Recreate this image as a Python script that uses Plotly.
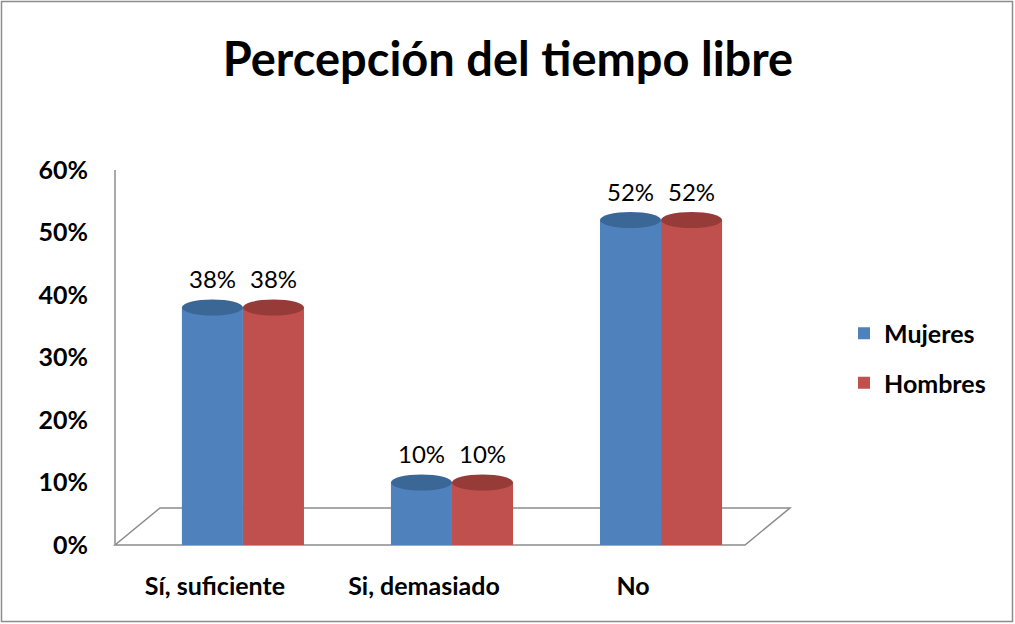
import plotly.graph_objects as go

# ---- data ----
categories = ["Sí, suficiente", "Si, demasiado", "No"]
series_names = ["Mujeres", "Hombres"]
mujeres = [38, 10, 52]
hombres = [38, 10, 52]
y_ticks = [0, 10, 20, 30, 40, 50, 60]
y_tick_labels = [f"{v}%" for v in y_ticks]

# ---- style ----
colors = ["#4F81BD", "#C0504D"]
top_colors = ["#3B6797", "#973B39"]
FONT = "Lato"
W, H = 1015, 624
L, R, T, B = 115, 225, 170, 79
PW, PH = W - L - R, H - T - B

def px(x):
    return (x - L) / PW

def py(y):
    return (H - B - y) / PH

x_pos = list(range(len(categories)))
series = [mujeres, hombres]
bargap = 0.416
bar_w = (1 - bargap) / 2

fig = go.Figure()
for k, (name, vals) in enumerate(zip(series_names, series)):
    fig.add_trace(go.Bar(
        x=x_pos, y=vals, name=name, legendgroup=name,
        marker=dict(color=colors[k], line=dict(width=0)),
        hoverinfo="skip",
    ))

shapes = []
annotations = []
for k, vals in enumerate(series):
    off = (k - 0.5) * bar_w
    for i, v in enumerate(vals):
        cx = x_pos[i] + off
        shapes.append(dict(type="circle", xref="x", yref="y", ysizemode="pixel",
                           yanchor=0, x0=cx - bar_w / 2, x1=cx + bar_w / 2, y0=-8, y1=8,
                           fillcolor=colors[k], line=dict(width=0), layer="below"))
        shapes.append(dict(type="circle", xref="x", yref="y", ysizemode="pixel",
                           yanchor=v, x0=cx - bar_w / 2, x1=cx + bar_w / 2, y0=-8, y1=8,
                           fillcolor=top_colors[k], line=dict(width=0), layer="above"))
        annotations.append(dict(x=cx, y=v, xref="x", yref="y", text=f"{v}%",
                                showarrow=False, yshift=29,
                                font=dict(family=FONT, size=24, color="#000000")))

floor = (f"M {px(115)} {py(545)} L {px(745)} {py(545)} L {px(790)} {py(508)} "
         f"L {px(160)} {py(508)} Z")
shapes.append(dict(type="path", xref="paper", yref="paper", path=floor,
                   line=dict(color="#8C8C8C", width=1.5), layer="below"))
shapes.append(dict(type="line", xref="paper", yref="paper", x0=px(115), x1=px(115),
                   y0=py(545), y1=py(170), line=dict(color="#8C8C8C", width=1.5), layer="below"))
shapes.append(dict(type="rect", xref="paper", yref="paper", x0=px(1.5), x1=px(1012.5),
                   y0=py(621.5), y1=py(1.5), line=dict(color="#8C8C8C", width=1.5), layer="below"))

fig.update_layout(
    width=W, height=H,
    margin=dict(l=L, r=R, t=T, b=B, pad=0),
    paper_bgcolor="white", plot_bgcolor="white",
    barmode="group", bargap=bargap, bargroupgap=0,
    title=dict(text="<b>Percepción del tiempo libre</b>", x=508 / W, xanchor="center",
               y=1 - 60 / H, yanchor="middle", xref="container", yref="container",
               font=dict(family=FONT, size=47, color="#000000")),
    xaxis=dict(range=[-0.612, 2.617], tickvals=[x - 0.134 for x in x_pos],
               ticktext=categories, showgrid=False, zeroline=False, showline=False,
               ticks="", ticklabelstandoff=24,
               tickfont=dict(family=FONT, size=25, color="#000000", weight="bold")),
    yaxis=dict(range=[0, 60], tickvals=y_ticks, ticktext=y_tick_labels,
               showgrid=False, zeroline=False, showline=False, ticks="",
               ticklabelstandoff=26,
               tickfont=dict(family=FONT, size=25, color="#000000", weight="bold")),
    legend=dict(x=px(844), y=py(358), xanchor="left", yanchor="middle",
                tracegroupgap=14, traceorder="grouped",
                font=dict(family=FONT, size=25, color="#000000", weight="bold"),
                bgcolor="rgba(0,0,0,0)"),
    shapes=shapes, annotations=annotations,
    showlegend=True,
)

fig.write_html("out.html", config={"displayModeBar": False},
               post_script="document.body.style.margin='0';document.body.style.overflow='hidden';")
